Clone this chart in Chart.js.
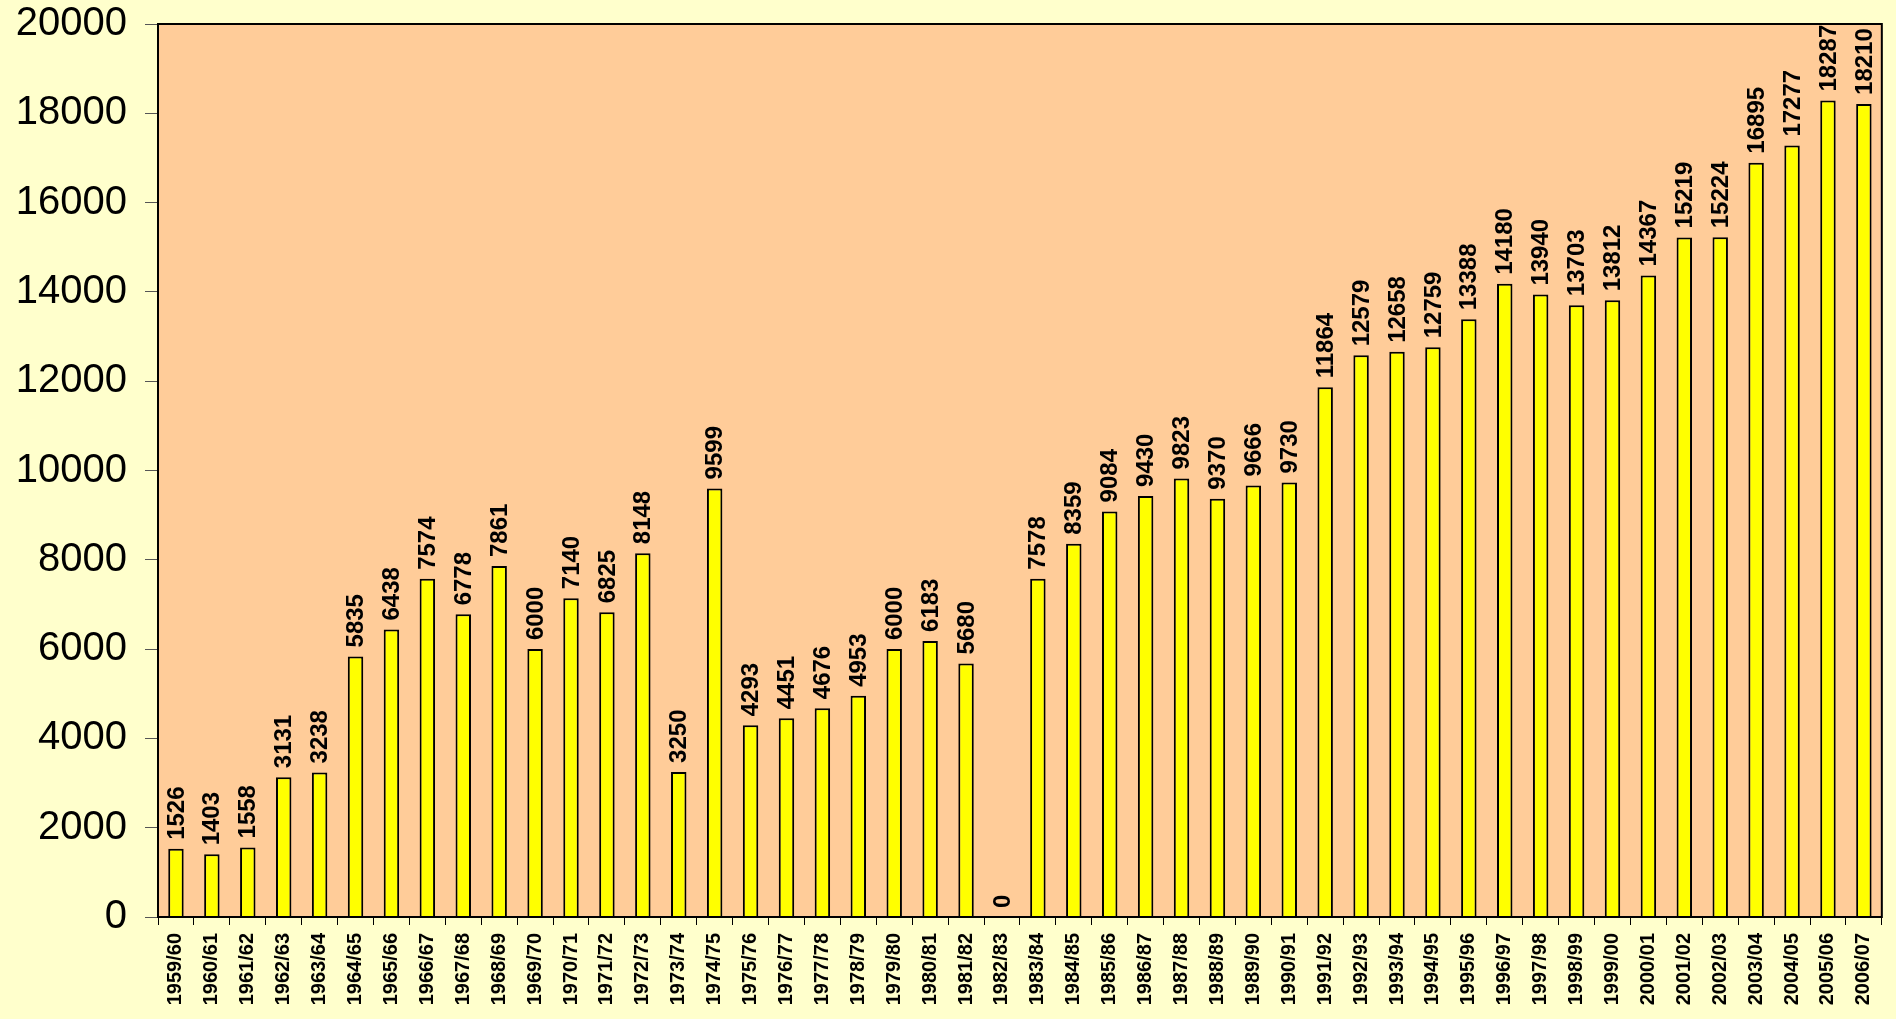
<!DOCTYPE html>
<html>
<head>
<meta charset="utf-8">
<script src="https://cdn.jsdelivr.net/npm/chart.js@4/dist/chart.umd.min.js"></script>
<style>
  html, body { margin: 0; padding: 0; background: #FFFFCC; }
  #wrap { width: 1896px; height: 1019px; position: relative; }
</style>
</head>
<body>
<div id="wrap"><canvas id="chart"></canvas></div>
<script>
// data
const seasons = [
  "1959/60","1960/61","1961/62","1962/63","1963/64","1964/65","1965/66","1966/67",
  "1967/68","1968/69","1969/70","1970/71","1971/72","1972/73","1973/74","1974/75",
  "1975/76","1976/77","1977/78","1978/79","1979/80","1980/81","1981/82","1982/83",
  "1983/84","1984/85","1985/86","1986/87","1987/88","1988/89","1989/90","1990/91",
  "1991/92","1992/93","1993/94","1994/95","1995/96","1996/97","1997/98","1998/99",
  "1999/00","2000/01","2001/02","2002/03","2003/04","2004/05","2005/06","2006/07"
];
const values = [
  1526, 1403, 1558, 3131, 3238, 5835, 6438, 7574,
  6778, 7861, 6000, 7140, 6825, 8148, 3250, 9599,
  4293, 4451, 4676, 4953, 6000, 6183, 5680, 0,
  7578, 8359, 9084, 9430, 9823, 9370, 9666, 9730,
  11864, 12579, 12658, 12759, 13388, 14180, 13940, 13703,
  13812, 14367, 15219, 15224, 16895, 17277, 18287, 18210
];
const yMin = 0, yMax = 20000, yStep = 2000;

Chart.defaults.font.family = "Arial, 'Liberation Sans', sans-serif";
Chart.defaults.color = "#000";

// backgrounds + plot frame
const background = {
  id: "background",
  beforeDraw(chart) {
    const { ctx, chartArea: a } = chart;
    ctx.save();
    ctx.fillStyle = "#FFFFCC";
    ctx.fillRect(0, 0, chart.width, chart.height);
    ctx.fillStyle = "#FFCC99";
    ctx.fillRect(a.left, a.top, a.right - a.left, a.bottom - a.top);
    ctx.restore();
  },
  afterDraw(chart) {
    const { ctx, chartArea: a } = chart;
    ctx.save();
    ctx.strokeStyle = "#000";
    ctx.lineWidth = 2;
    ctx.strokeRect(a.left, a.top, a.right - a.left, a.bottom - a.top);
    ctx.restore();
  }
};

// vertical value labels above bars
const barLabels = {
  id: "barLabels",
  afterDatasetsDraw(chart) {
    const { ctx } = chart;
    const meta = chart.getDatasetMeta(0);
    ctx.save();
    ctx.font = "bold 24px Arial, 'Liberation Sans', sans-serif";
    ctx.fillStyle = "#000";
    ctx.textAlign = "left";
    ctx.textBaseline = "middle";
    meta.data.forEach((bar, i) => {
      ctx.save();
      ctx.translate(bar.x + 1, bar.y - 9);
      ctx.rotate(-Math.PI / 2);
      ctx.fillText(String(values[i]), 0, 0);
      ctx.restore();
    });
    ctx.restore();
  }
};

new Chart(document.getElementById("chart"), {
  type: "bar",
  data: {
    labels: seasons,
    datasets: [{
      data: values,
      backgroundColor: "#FFFF00",
      borderColor: "#000",
      borderWidth: 2,
      barPercentage: 0.43,
      categoryPercentage: 1
    }]
  },
  options: {
    responsive: true,
    maintainAspectRatio: false,
    animation: false,
    layout: { padding: { top: 24, right: 12, left: 0, bottom: 0 } },
    plugins: { legend: { display: false }, tooltip: { enabled: false } },
    scales: {
      x: {
        offset: true,
        grid: { offset: true, drawOnChartArea: false, color: "#000", tickLength: 8, lineWidth: 1 },
        border: { display: true, color: "#000", width: 2 },
        ticks: {
          autoSkip: false,
          minRotation: 90,
          maxRotation: 90,
          padding: 8,
          font: { size: 20, weight: "bold" }
        },
        afterFit(scale) { scale.height = 102; }
      },
      y: {
        min: yMin,
        max: yMax,
        grid: { drawOnChartArea: false, color: "#555", tickLength: 13 },
        border: { display: true, color: "#000", width: 2 },
        ticks: {
          stepSize: yStep,
          padding: 18,
          font: { size: 40 },
          callback: (v) => String(v)
        },
        afterFit(scale) {
          scale.width = 158;
          scale.paddingTop = 0;
          scale.paddingBottom = 0;
        }
      }
    }
  },
  plugins: [background, barLabels]
});
</script>
</body>
</html>
